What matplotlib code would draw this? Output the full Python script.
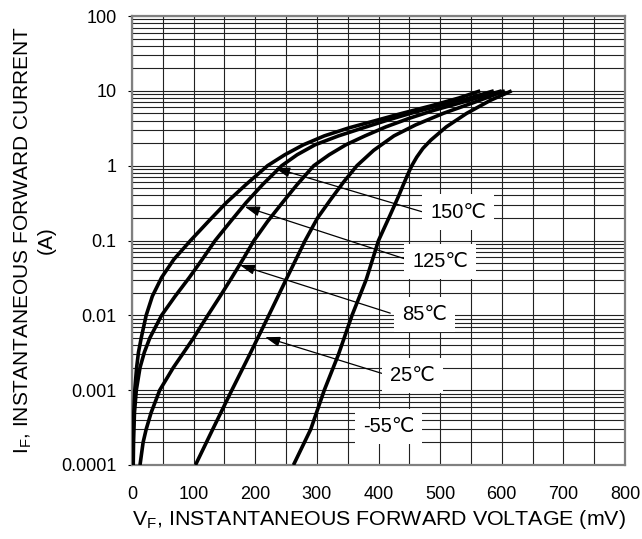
import numpy as np
import matplotlib
matplotlib.use("Agg")
import matplotlib.pyplot as plt
from matplotlib.ticker import FixedLocator, FixedFormatter, LogLocator, NullFormatter

plt.rcParams['font.family'] = ['Liberation Sans', 'DejaVu Sans']

# Curvas: tensão (mV) x corrente (A)
v_150 = [1, 1.5, 2, 3, 4.5, 7.5, 10.5, 15, 23, 33, 48, 68, 95, 124, 153, 185, 220, 248, 278, 312,
         352, 395, 438, 485, 530, 565]
i_150 = [1e-4, 2e-4, 3e-4, 5e-4, 1e-3, 2e-3, 3.2e-3, 5e-3, 1e-2, 1.8e-2, 3.2e-2, 5.6e-2, 0.1, 0.18,
         0.32, 0.56, 1.0, 1.4, 1.9, 2.5, 3.2, 4.0, 5.0, 6.3, 8.0, 10]

v_125 = [2, 2.5, 4, 7, 13, 20, 29, 48, 70, 93, 114, 135, 160, 185, 212, 243, 268, 297, 335, 375,
         412, 452, 493, 540, 587]
i_125 = [1e-4, 2e-4, 5e-4, 1e-3, 2e-3, 3.2e-3, 5e-3, 1e-2, 1.8e-2, 3.2e-2, 5.6e-2, 0.1, 0.18, 0.32,
         0.56, 1.0, 1.4, 1.9, 2.5, 3.2, 4.0, 5.0, 6.2, 7.7, 10]

v_85 = [13, 18, 23, 31, 45, 67, 84, 100, 123, 143, 162, 180, 198, 220, 244, 268, 295, 320, 347,
        378, 412, 450, 490, 535, 570, 600]
i_85 = [1e-4, 2e-4, 3e-4, 5e-4, 1e-3, 2e-3, 3.2e-3, 5e-3, 1e-2, 1.8e-2, 3.2e-2, 5.6e-2, 0.1, 0.18,
        0.32, 0.56, 1.0, 1.4, 1.9, 2.5, 3.3, 4.3, 5.5, 7.0, 8.5, 10]

v_25 = [103, 131, 162, 191, 222, 250, 281, 301, 322, 343, 365, 392, 425, 460, 505, 555, 605]
i_25 = [1e-4, 3e-4, 1e-3, 3e-3, 1e-2, 3e-2, 0.1, 0.2, 0.35, 0.6, 1.0, 1.6, 2.5, 3.5, 5.0, 7.0, 10]

v_m55 = [262, 290, 312, 335, 357, 380, 400, 419, 433, 440, 447, 454, 462, 472, 485, 510, 543, 582, 616]
i_m55 = [1e-4, 3e-4, 1e-3, 3e-3, 1e-2, 3e-2, 0.1, 0.22, 0.4, 0.55, 0.75, 1.0, 1.3, 1.7, 2.2, 3.3,
         5.0, 7.5, 10]

temps = ['150℃', '125℃', '85℃', '25℃', '-55℃']
y_ticks = [1e-4, 1e-3, 1e-2, 1e-1, 1, 10, 100]
y_labels = ['0.0001', '0.001', '0.01', '0.1', '1', '10', '100']
x_ticks = [0, 100, 200, 300, 400, 500, 600, 700, 800]

fig = plt.figure(figsize=(6.42, 5.39), dpi=100)
ax = fig.add_axes([0.2056, 0.1373, 0.768, 0.833])

for v, i in [(v_150, i_150), (v_125, i_125), (v_85, i_85), (v_25, i_25), (v_m55, i_m55)]:
    ax.plot(v, i, color='black', lw=2.6, solid_capstyle='butt', solid_joinstyle='round', zorder=3)

ax.set_yscale('log')
ax.set_xlim(0, 800)
ax.set_ylim(1e-4, 100)

ax.xaxis.set_major_locator(FixedLocator(x_ticks))
ax.xaxis.set_minor_locator(FixedLocator(np.arange(50, 800, 100)))
ax.yaxis.set_major_locator(FixedLocator(y_ticks))
ax.yaxis.set_major_formatter(FixedFormatter(y_labels))
ax.yaxis.set_minor_locator(LogLocator(base=10, subs=np.arange(2, 10), numticks=20))
ax.yaxis.set_minor_formatter(NullFormatter())

ax.grid(True, which='both', color='#222222', lw=0.8)
ax.set_axisbelow(True)
ax.tick_params(axis='both', which='both', length=0, labelsize=13)
ax.tick_params(axis='x', which='major', pad=15)
ax.tick_params(axis='y', which='major', length=3, direction='out', pad=8)

for s in ax.spines.values():
    s.set_color('#808080')
    s.set_linewidth(1.6)

ax.set_xlabel('V$_\\mathregular{F}$, INSTANTANEOUS FORWARD VOLTAGE (mV)', fontsize=15.4, labelpad=4)
ax.set_ylabel('I$_\\mathregular{F}$, INSTANTANEOUS FORWARD CURRENT\n(A)', fontsize=15, labelpad=4,
              linespacing=1.2)

# Rótulos de temperatura com setas
label_pos = [(529, 0.24), (500, 0.053), (474, 0.0104), (455, 0.00155), (416, 0.00033)]
arrow_tail = [(470, 0.243), (448, 0.055), (419, 0.0107), (405, 0.00168)]
arrow_tip = [(232, 0.93), (183, 0.283), (175, 0.047), (216, 0.0051)]

for k, t in enumerate(temps):
    ax.text(label_pos[k][0], label_pos[k][1], t, fontsize=14.5, ha='center', va='center', zorder=5,
            bbox=dict(boxstyle='square,pad=0.4', facecolor='white', edgecolor='none'))
    if k < len(arrow_tip):
        ax.annotate('', xy=arrow_tip[k], xytext=arrow_tail[k], zorder=4,
                    arrowprops=dict(arrowstyle='-|>,head_length=0.75,head_width=0.25',
                                    color='black', lw=0.9, shrinkA=0, shrinkB=0,
                                    mutation_scale=12))

fig.savefig('out.png', dpi=100)
